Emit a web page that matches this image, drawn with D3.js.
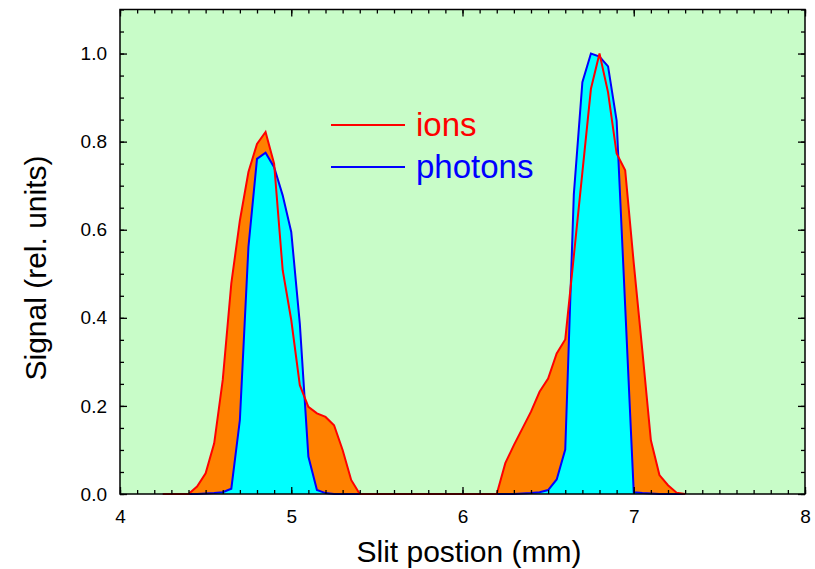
<!DOCTYPE html>
<html>
<head>
<meta charset="utf-8">
<script src="https://cdn.jsdelivr.net/npm/d3@7.9.0/dist/d3.min.js"></script>
<style>
  html, body { margin: 0; padding: 0; background: #fff; }
  svg { display: block; font-family: "Liberation Sans", Arial, sans-serif; }
</style>
</head>
<body>
<div id="chart"></div>
<script>
// slit position (mm)
const slitPos = [
  4.25, 4.30, 4.35, 4.40, 4.45, 4.50, 4.55, 4.60, 4.65, 4.70,
  4.75, 4.80, 4.85, 4.90, 4.95, 5.00, 5.05, 5.10, 5.15, 5.20,
  5.25, 5.30, 5.35, 5.40, 5.45, 5.50, 5.55, 5.60, 5.65, 5.70,
  5.75, 5.80, 5.85, 5.90, 5.95, 6.00, 6.05, 6.10, 6.15, 6.20,
  6.25, 6.30, 6.35, 6.40, 6.45, 6.50, 6.55, 6.60, 6.65, 6.70,
  6.75, 6.80, 6.85, 6.90, 6.95, 7.00, 7.05, 7.10, 7.15, 7.20,
  7.25, 7.30
];

const ions = [
  0, 0, 0, 0, 0.017, 0.047, 0.115, 0.259, 0.478, 0.621,
  0.731, 0.795, 0.822, 0.750, 0.508, 0.395, 0.247, 0.198, 0.183, 0.175,
  0.156, 0.100, 0.032, 0, 0, 0, 0, 0, 0, 0,
  0, 0, 0, 0, 0, 0, 0, 0, 0, 0,
  0.070, 0.111, 0.149, 0.187, 0.232, 0.262, 0.319, 0.351, 0.540, 0.730,
  0.920, 1.000, 0.912, 0.773, 0.735, 0.524, 0.326, 0.122, 0.043, 0.020,
  0.003, 0
];

const photons = [
  0, 0, 0, 0, 0, 0.001, 0.002, 0.004, 0.012, 0.168,
  0.561, 0.761, 0.775, 0.742, 0.678, 0.595, 0.387, 0.085, 0.009, 0.002,
  0, 0, 0, 0, 0, 0, 0, 0, 0, 0,
  0, 0, 0, 0, 0, 0, 0, 0, 0, 0,
  0, 0, 0.001, 0.002, 0.004, 0.009, 0.033, 0.101, 0.680, 0.935,
  1.000, 0.993, 0.971, 0.848, 0.426, 0.004, 0.002, 0.001, 0, 0,
  0, 0
];

const xMajor = [4, 5, 6, 7, 8];
const yMajor = [0, 0.2, 0.4, 0.6, 0.8, 1.0];
const xMinor = d3.range(40, 81).map((d) => d / 10);
const yMinor = d3.range(0, 23).map((d) => d / 20);

const width = 815;
const height = 569;
const margin = { top: 9.5, right: 10, bottom: 75, left: 120 };

const svg = d3.select('#chart')
  .append('svg')
  .attr('width', width)
  .attr('height', height);

const x = d3.scaleLinear()
  .domain([4, 8])
  .range([margin.left, width - margin.right]);

const y = d3.scaleLinear()
  .domain([0, 1.1])
  .range([height - margin.bottom, margin.top]);

// background
svg.append('rect')
  .attr('x', x(4))
  .attr('y', y(1.1))
  .attr('width', x(8) - x(4))
  .attr('height', y(0) - y(1.1))
  .attr('fill', '#c8fcc8');

const rows = slitPos.map((p, i) => ({ p, ion: ions[i], ph: photons[i] }));

const area = (key) => d3.area()
  .x((d) => x(d.p))
  .y0(y(0))
  .y1((d) => y(d[key]));

const line = (key) => d3.line()
  .x((d) => x(d.p))
  .y((d) => y(d[key]));

svg.append('path')
  .datum(rows)
  .attr('d', area('ion'))
  .attr('fill', '#ff8000');

svg.append('path')
  .datum(rows)
  .attr('d', area('ph'))
  .attr('fill', '#00ffff');

svg.append('path')
  .datum(rows)
  .attr('d', line('ph'))
  .attr('fill', 'none')
  .attr('stroke', '#0000ff')
  .attr('stroke-width', 2);

svg.append('path')
  .datum(rows)
  .attr('d', line('ion'))
  .attr('fill', 'none')
  .attr('stroke', '#ff0000')
  .attr('stroke-width', 2);

// TICKS (inward, on all four sides)

function ticks(axis, values, size, transform) {
  const g = svg.append('g')
    .attr('transform', transform)
    .call(axis.tickValues(values).tickSize(-size).tickFormat(''));
  g.select('.domain').remove();
  g.selectAll('line').attr('stroke', '#000').attr('stroke-width', 1.3);
  return g;
}

const atBottom = `translate(0,${y(0)})`;
const atTop = `translate(0,${y(1.1)})`;
const atLeft = `translate(${x(4)},0)`;
const atRight = `translate(${x(8)},0)`;

ticks(d3.axisBottom(x), xMinor, 4, atBottom);
ticks(d3.axisBottom(x), xMajor, 7, atBottom);
ticks(d3.axisTop(x), xMinor, 4, atTop);
ticks(d3.axisTop(x), xMajor, 7, atTop);
ticks(d3.axisLeft(y), yMinor, 4, atLeft);
ticks(d3.axisLeft(y), yMajor, 7, atLeft);
ticks(d3.axisRight(y), yMinor, 4, atRight);
ticks(d3.axisRight(y), yMajor, 7, atRight);

// LABELS

const xLab = svg.append('g')
  .attr('transform', atBottom)
  .call(d3.axisBottom(x).tickValues(xMajor).tickSize(0).tickPadding(15.5)
    .tickFormat(d3.format('d')));
xLab.select('.domain').remove();
xLab.attr('font-size', null).attr('font-family', null);
xLab.selectAll('text')
  .style('font-size', '19px')
  .attr('fill', '#000');

const yLab = svg.append('g')
  .attr('transform', atLeft)
  .call(d3.axisLeft(y).tickValues(yMajor).tickSize(0).tickPadding(13)
    .tickFormat(d3.format('.1f')));
yLab.select('.domain').remove();
yLab.attr('font-size', null).attr('font-family', null);
yLab.selectAll('text')
  .style('font-size', '19px')
  .attr('fill', '#000');

// frame
svg.append('rect')
  .attr('x', x(4))
  .attr('y', y(1.1))
  .attr('width', x(8) - x(4))
  .attr('height', y(0) - y(1.1))
  .attr('fill', 'none')
  .attr('stroke', '#000')
  .attr('stroke-width', 1.5);

// AXIS TITLES

svg.append('text')
  .attr('x', 469)
  .attr('y', 562)
  .attr('text-anchor', 'middle')
  .style('font-size', '30px')
  .text('Slit postion (mm)');

svg.append('text')
  .attr('transform', `translate(46,268) rotate(-90)`)
  .attr('text-anchor', 'middle')
  .style('font-size', '30px')
  .text('Signal (rel. units)');

// LEGEND

const legend = [
  { name: 'ions', color: '#ff0000' },
  { name: 'photons', color: '#0000ff' },
];

const lg = svg.append('g').attr('transform', 'translate(331,125)');

legend.forEach((d, i) => {
  lg.append('line')
    .attr('x1', 0).attr('x2', 74)
    .attr('y1', i * 42).attr('y2', i * 42)
    .attr('stroke', d.color)
    .attr('stroke-width', 2);
  lg.append('text')
    .attr('x', 85)
    .attr('y', i * 42 + 11)
    .style('font-size', '33px')
    .attr('fill', d.color)
    .text(d.name);
});
</script>
</body>
</html>
